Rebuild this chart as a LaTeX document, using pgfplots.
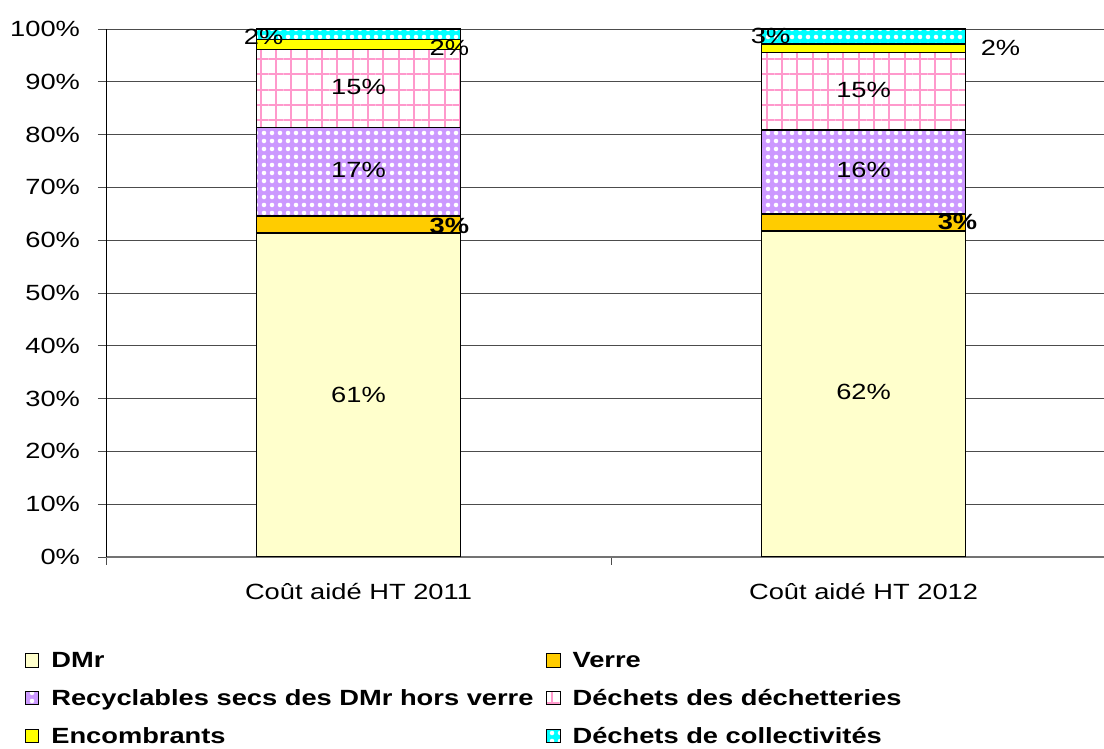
\documentclass[border=0pt]{standalone}
\usepackage{pgfplots}
\pgfplotsset{compat=1.18}
\usetikzlibrary{patterns.meta}
\usepackage{fontspec}
\setmainfont{Liberation Sans}[FakeStretch=1.24]
\definecolor{cDMr}{HTML}{FFFFCC}
\definecolor{cVerre}{HTML}{FFCC00}
\definecolor{cRecy}{HTML}{CC99FF}
\definecolor{cDechPink}{HTML}{FF99CC}
\definecolor{cEnc}{HTML}{FFFF00}
\definecolor{cColl}{HTML}{00FFFF}
\newcommand{\fs}{\fontsize{16.5}{19}\selectfont}
\begin{document}
\begin{tikzpicture}
\path[use as bounding box] (-79.5pt,-144pt) rectangle (748.5pt,417.75pt);
\begin{axis}[
  at={(0,0)}, anchor=south west,
  width=748.5pt, height=396pt, scale only axis,
  ybar stacked, bar width=0.404,
  xmin=-0.5, xmax=1.476, ymin=0, ymax=100,
  axis x line=bottom, axis y line=left,
  axis line style={-},
  x axis line style={black!55, line width=0.9pt},
  y axis line style={black, line width=0.7pt},
  ytick={0,10,...,100},
  yticklabel={\pgfmathprintnumber{\tick}\%},
  /pgf/number format/assume math mode=true,
  yticklabel style={xshift=-10pt},
  ymajorgrids,
  grid style={black!70, line width=0.6pt},
  tick align=outside, major tick length=6pt,
  tick style={black!70, line width=0.6pt},
  xtick={-0.5,0.5}, xticklabels={},
  extra x ticks={0,1},
  extra x tick labels={Coût aidé HT 2011, Coût aidé HT 2012},
  extra x tick style={major tick length=0pt, grid=none, xticklabel style={yshift=-16pt}},
  tick label style={font=\fs},
  legend columns=2,
  legend cell align=left,
  legend style={draw=none, at={(0,0)}, anchor=north west, xshift=-64pt, yshift=-67pt,
    font=\bfseries\fs, row sep=11pt,
    /tikz/every odd column/.append style={column sep=7pt},
    /tikz/every even column/.append style={column sep=7.5pt}},
  legend image code/.code={\draw[#1, line width=0.8pt] (0pt,-5pt) rectangle (10pt,5pt);},
  every axis plot/.append style={draw=black, line width=1.1pt},
]
\addplot[fill=cDMr] coordinates {(0,61.4) (1,61.7)};
\addlegendentry{DMr}
\addplot[fill=cVerre] coordinates {(0,3.2) (1,3.3)};
\addlegendentry{Verre}
\addplot[fill=cRecy, postaction={pattern={Dots[radius=1.7pt, distance=6pt]}, pattern color=white}] coordinates {(0,16.7) (1,15.9)};
\addlegendentry{Recyclables secs des DMr hors verre}
\addplot[fill=white, postaction={pattern={Hatch[angle=0, distance=11.5pt, line width=1.3pt]}, pattern color=cDechPink}] coordinates {(0,14.8) (1,14.6)};
\addlegendentry{Déchets des déchetteries}
\addplot[fill=cEnc] coordinates {(0,1.9) (1,1.7)};
\addlegendentry{Encombrants}
\addplot[fill=cColl, postaction={pattern={Dots[radius=1.7pt, distance=6pt]}, pattern color=white}] coordinates {(0,2.0) (1,2.8)};
\addlegendentry{Déchets de collectivités}
\coordinate (a1) at (axis cs:0,30.7);
\coordinate (a2) at (axis cs:0.18,62.7);
\coordinate (a3) at (axis cs:0,73.3);
\coordinate (a4) at (axis cs:0,89.0);
\coordinate (a5) at (axis cs:0.18,96.4);
\coordinate (a6) at (axis cs:-0.188,98.5);
\coordinate (b1) at (axis cs:1,31.2);
\coordinate (b2) at (axis cs:1.186,63.4);
\coordinate (b3) at (axis cs:1,73.3);
\coordinate (b4) at (axis cs:1,88.4);
\coordinate (b5) at (axis cs:1.271,96.4);
\coordinate (b6) at (axis cs:0.816,98.7);
\end{axis}
\node[font=\fs] at (a1) {61\%};
\node[font=\bfseries\fs] at (a2) {3\%};
\node[font=\fs] at (a3) {17\%};
\node[font=\fs] at (a4) {15\%};
\node[font=\fs] at (a5) {2\%};
\node[font=\fs] at (a6) {2\%};
\node[font=\fs] at (b1) {62\%};
\node[font=\bfseries\fs] at (b2) {3\%};
\node[font=\fs] at (b3) {16\%};
\node[font=\fs] at (b4) {15\%};
\node[font=\fs] at (b5) {2\%};
\node[font=\fs] at (b6) {3\%};
\end{tikzpicture}
\end{document}
